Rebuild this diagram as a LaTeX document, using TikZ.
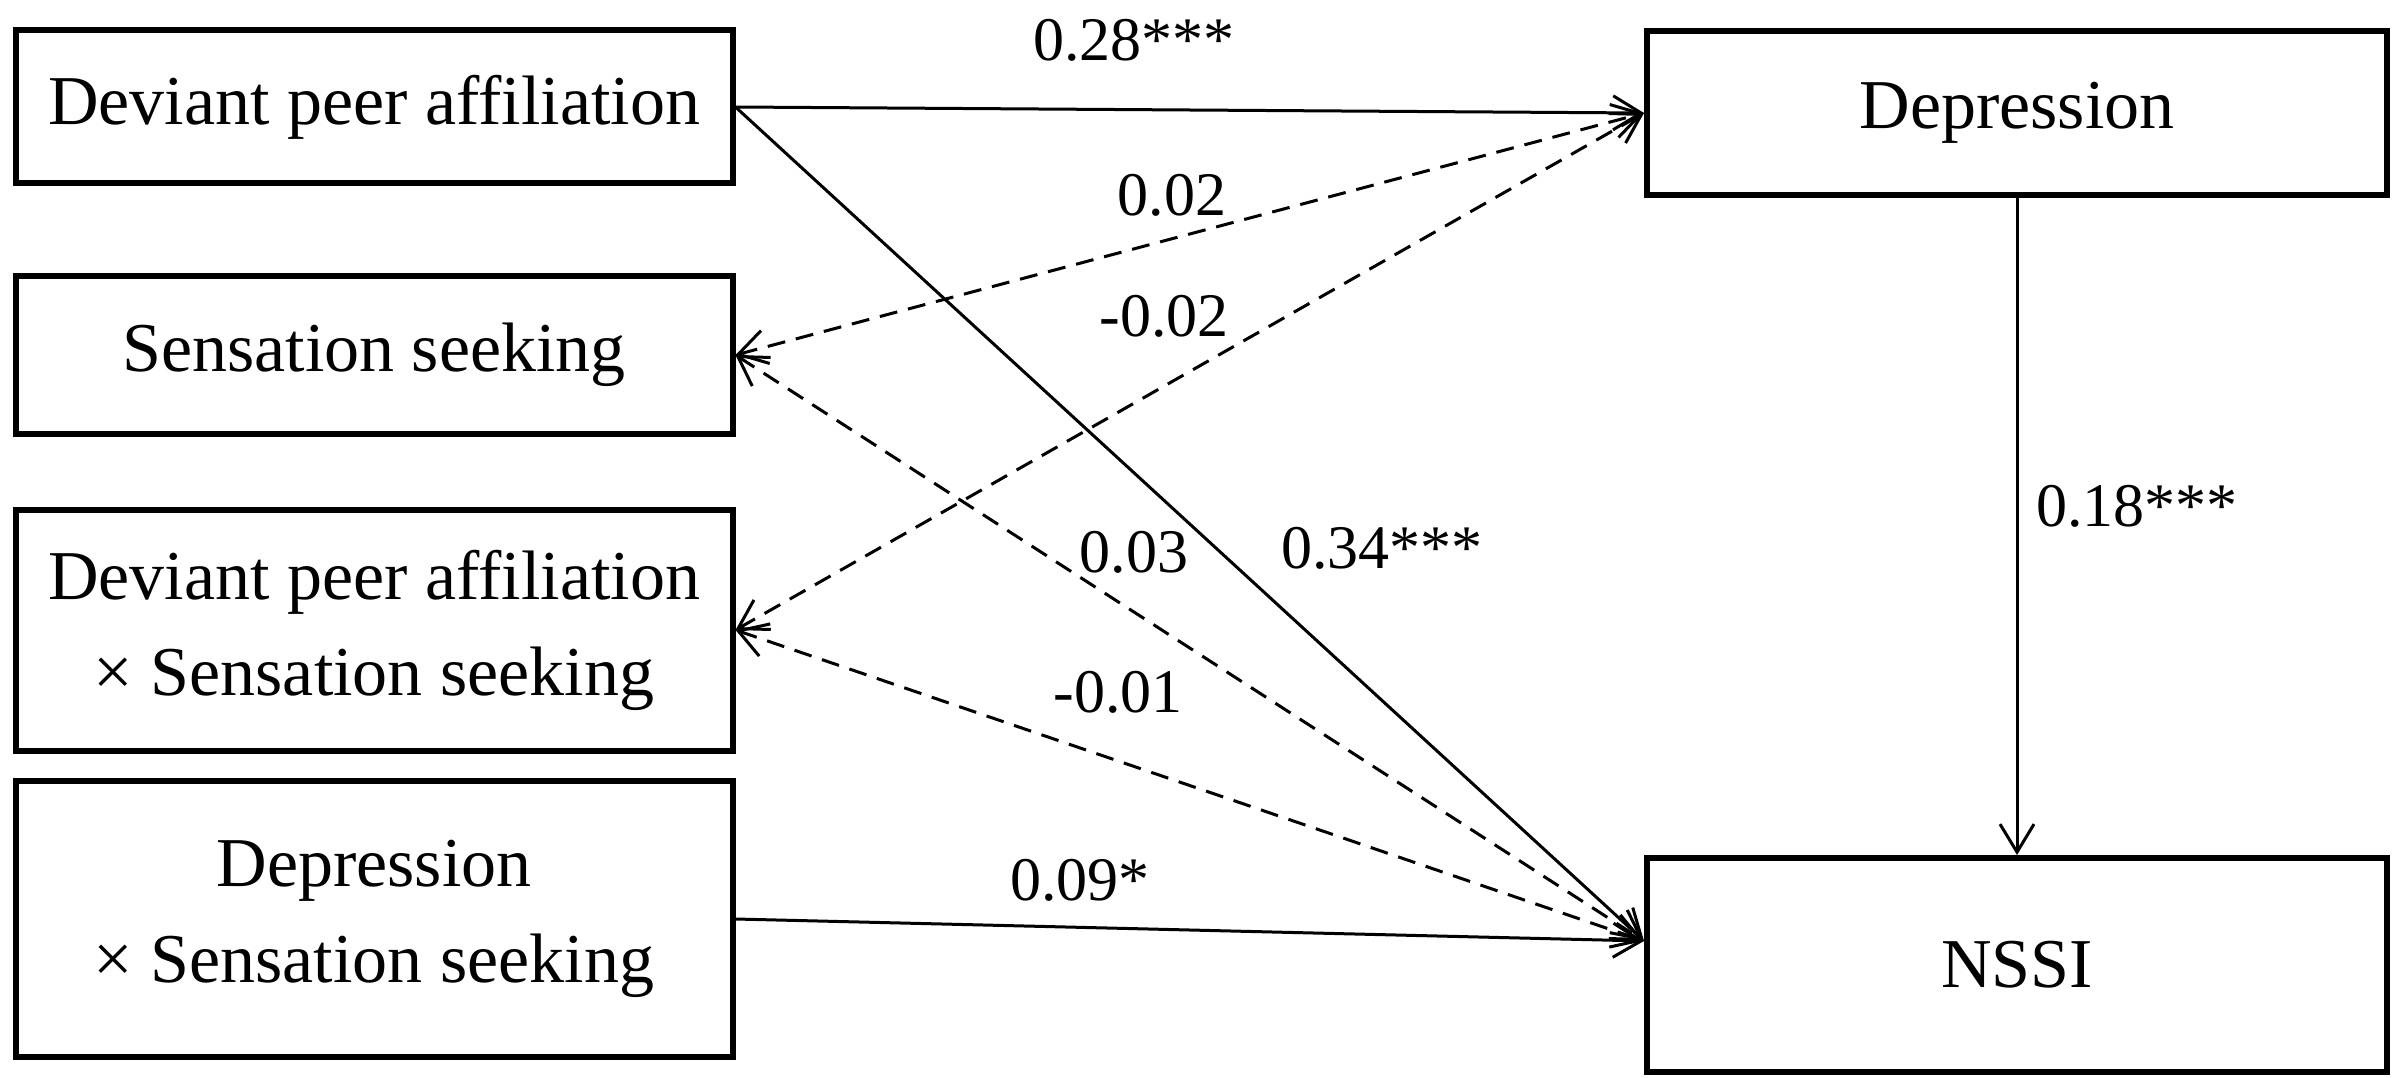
\documentclass[tikz,border=0pt]{standalone}
\usepackage{fontspec}
\setmainfont{Liberation Serif}
\usetikzlibrary{arrows.meta}
\begin{document}
\begin{tikzpicture}[x=1pt,y=-1pt,
    box/.style={draw,line width=6pt,minimum width=717pt,align=center,font=\fontsize{70}{96}\selectfont},
    rbox/.style={box,minimum width=740pt},
    path/.style={line width=3pt,-{Straight Barb[length=28pt,width=34pt,line width=3pt]}},
    dpath/.style={line width=3pt,dash pattern=on 18pt off 11pt,{Straight Barb[length=28pt,width=34pt,line width=3pt]}-{Straight Barb[length=28pt,width=34pt,line width=3pt]}},
    lab/.style={font=\fontsize{62}{70}\selectfont}]
            \useasboundingbox (0,0) rectangle (2403,1078);
            \node[box,minimum height=153pt] (dpa)   at ( 374, 107) {Deviant peer affiliation};
            \node[box,minimum height=158pt] (ss)    at ( 374, 355) {Sensation seeking};
            \node[box,minimum height=241pt] (dpass) at ( 374, 630) {Deviant peer affiliation\\× Sensation seeking};
            \node[box,minimum height=276pt] (depss) at ( 374, 919) {Depression\\× Sensation seeking};
            \node[rbox,minimum height=164pt] (dep)  at (2017, 113) {Depression};
            \node[rbox,minimum height=214pt] (nssi) at (2017, 965) {NSSI};
            \coordinate (nin) at ([yshift=24pt]nssi.west);

            \draw[path]  (dpa.east) to (dep.west);
            \draw[path]  (dpa.east) to (nin);
            \draw[dpath] (ss.east) to (dep.west);
            \draw[dpath] (ss.east) to (nin);
            \draw[dpath] (dpass.east) to (dep.west);
            \draw[dpath] (dpass.east) to (nin);
            \draw[path]  (depss.east) to (nin);
            \draw[path]  (dep.south) to (nssi.north);

            \node[lab] (l1) at (1134,  40) {0.28***};
            \node[lab] (l2) at (1172, 195) {0.02};
            \node[lab] (l3) at (1164, 316) {-0.02};
            \node[lab] (l4) at (1134, 552) {0.03};
            \node[lab] (l5) at (1382, 548) {0.34***};
            \node[lab] (l6) at (1118, 692) {-0.01};
            \node[lab] (l7) at (1080, 880) {0.09*};
            \node[lab] (l8) at (2137, 506) {0.18***};
          \end{tikzpicture}
\end{document}
